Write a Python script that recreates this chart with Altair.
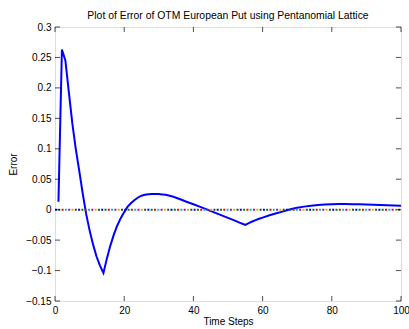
import altair as alt
import pandas as pd

# Pricing error of the pentanomial lattice against number of time steps
steps = [1, 2, 3, 4, 5, 6, 7, 8, 9, 10, 11, 12, 13, 14, 15, 16, 17, 18, 19, 20,
         21, 22, 23, 24, 25, 26, 27, 28, 29, 30, 31, 32, 34, 36, 38, 40, 42, 44,
         46, 48, 50, 52, 54, 55, 56, 57, 58, 59, 60, 62, 64, 66, 68, 70, 72, 74,
         76, 78, 80, 82, 84, 86, 88, 90, 92, 94, 96, 98, 100]
errors = [0.013, 0.263, 0.245, 0.193, 0.142, 0.100, 0.064, 0.027, -0.007, -0.034,
          -0.057, -0.077, -0.092, -0.104, -0.080, -0.059, -0.041, -0.026, -0.014, -0.004,
          0.005, 0.011, 0.016, 0.020, 0.023, 0.0245, 0.0253, 0.0257, 0.0258, 0.0256,
          0.0251, 0.0244, 0.0215, 0.0175, 0.013, 0.0088, 0.0045, 0.0, -0.0045, -0.009,
          -0.0135, -0.018, -0.0228, -0.025, -0.0222, -0.0195, -0.0172, -0.015, -0.013, -0.0093,
          -0.006, -0.0028, 0.0008, 0.003, 0.005, 0.0065, 0.0077, 0.0086, 0.0091, 0.0093,
          0.0093, 0.0091, 0.0088, 0.0085, 0.0081, 0.0077, 0.0073, 0.0069, 0.0065]

x_ticks = [0, 20, 40, 60, 80, 100]
y_ticks = [-0.15, -0.1, -0.05, 0, 0.05, 0.1, 0.15, 0.2, 0.25, 0.3]

# colours of the overlaid dotted reference lines at zero
zero_colors = ["#0000ff", "#008000", "#ff0000", "#00bfbf", "#bf00bf", "#bfbf00", "#404040"]

FONT = "Liberation Sans"
XDOM = [0, 100]
YDOM = [-0.15, 0.3]

df = pd.DataFrame({"step": steps, "error": errors})
xt = pd.DataFrame({"v": x_ticks})
yt = pd.DataFrame({"v": y_ticks})
one = pd.DataFrame({"k": [0]})

xs = alt.Scale(domain=XDOM, nice=False, zero=False)
ys = alt.Scale(domain=YDOM, nice=False, zero=False)

# one shared axis definition per direction, used by every layer
x_axis = alt.Axis(values=x_ticks, format="~r", ticks=False, domain=False, grid=False,
                  labelOverlap=False, labelFlush=False,
                  labelPadding=4, labelFontSize=10, labelFont=FONT, labelColor="black",
                  title="Time Steps", titleFont=FONT, titleFontSize=10,
                  titleFontWeight="normal", titleColor="black", titlePadding=1)
y_axis = alt.Axis(values=y_ticks, format="~r", ticks=False, domain=False, grid=False,
                  labelOverlap=False, labelFlush=False,
                  labelPadding=4, labelFontSize=10, labelFont=FONT, labelColor="black",
                  title="Error", titleFont=FONT, titleFontSize=10,
                  titleFontWeight="normal", titleColor="black", titlePadding=7)

line = alt.Chart(df).mark_line(color="#0000ff", strokeWidth=2, clip=True).encode(
    x=alt.X("step:Q", scale=xs, axis=x_axis),
    y=alt.Y("error:Q", scale=ys, axis=y_axis),
)

# zero reference: several dotted lines, each dash pattern shifted by one dot pitch
pitch = 3.3
dot = 2.0
period = pitch * len(zero_colors)
zero_layers = []
for i, c in enumerate(zero_colors):
    if i == 0:
        dash = [dot, period - dot]
    else:
        dash = [0.001, pitch * i - 0.001, dot, period - dot - pitch * i]
    zero_layers.append(
        alt.Chart(one).mark_rule(color=c, strokeWidth=2, strokeDash=dash).encode(
            x=alt.value(0), x2=alt.value(346), y=alt.datum(0, scale=ys, axis=y_axis)
        )
    )

# inward tick marks on all four sides
tick_len = 5
bottom = alt.Chart(xt).mark_tick(orient="vertical", size=tick_len, thickness=1,
                                 color="black", yOffset=-tick_len / 2).encode(
    x=alt.X("v:Q", scale=xs, axis=x_axis), y=alt.datum(YDOM[0], scale=ys, axis=y_axis))
top = alt.Chart(xt).mark_tick(orient="vertical", size=tick_len, thickness=1,
                              color="black", yOffset=tick_len / 2).encode(
    x=alt.X("v:Q", scale=xs, axis=x_axis), y=alt.datum(YDOM[1], scale=ys, axis=y_axis))
left = alt.Chart(yt).mark_tick(orient="horizontal", size=tick_len, thickness=1,
                               color="black", xOffset=tick_len / 2).encode(
    y=alt.Y("v:Q", scale=ys, axis=y_axis), x=alt.datum(XDOM[0], scale=xs, axis=x_axis))
right = alt.Chart(yt).mark_tick(orient="horizontal", size=tick_len, thickness=1,
                                color="black", xOffset=-tick_len / 2).encode(
    y=alt.Y("v:Q", scale=ys, axis=y_axis), x=alt.datum(XDOM[1], scale=xs, axis=x_axis))

chart = alt.layer(line, *zero_layers, bottom, top, left, right).properties(
    width=346,
    height=274,
    title=alt.TitleParams("Plot of Error of OTM European Put using Pentanomial Lattice",
                          font=FONT, fontSize=10.4, fontWeight="normal", color="black",
                          anchor="middle", offset=1),
    autosize=alt.AutoSizeParams(type="none"),
    padding={"left": 55, "top": 27, "right": 8, "bottom": 28},
).configure_view(stroke="black", strokeWidth=1).configure(background="white")

chart.save("out.html", embed_options={"renderer": "svg", "actions": False})
